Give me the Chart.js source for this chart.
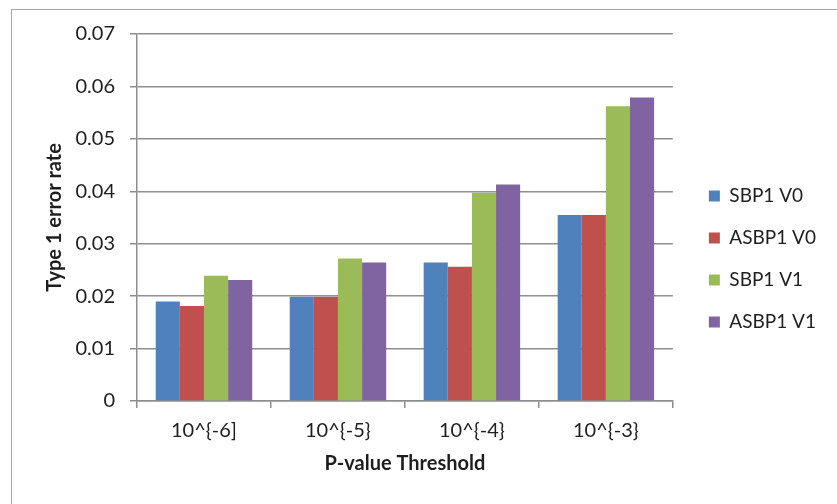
<!DOCTYPE html>
<html lang="en">
<head>
    <meta charset="UTF-8">
    <title>Type 1 error rate by P-value threshold</title>
    <script src="https://cdn.jsdelivr.net/npm/chart.js"></script>
    <style>
        html, body { margin: 0; padding: 0; background: #fff; overflow: hidden; }
        .frame {
            position: absolute; left: 11px; top: 9px;
            width: 900px; height: 600px;
            border: 1.5px solid #a6a6a6;
        }
        .wrap { position: absolute; left: 0; top: 0; width: 837px; height: 504px; }
    </style>
</head>
<body>
    <div class="frame"></div>
    <div class="wrap"><canvas id="chart"></canvas></div>

    <script>
        // Chart data
        const categories = ['10^{-6]', '10^{-5}', '10^{-4}', '10^{-3}'];
        const seriesNames = ['SBP1 V0', 'ASBP1 V0', 'SBP1 V1', 'ASBP1 V1'];
        const sbp1V0  = [0.0190, 0.0199, 0.0264, 0.0355];
        const asbp1V0 = [0.0181, 0.0199, 0.0256, 0.0355];
        const sbp1V1  = [0.0239, 0.0272, 0.0397, 0.0562];
        const asbp1V1 = [0.0231, 0.0264, 0.0413, 0.0579];
        const yTicks = [0, 0.01, 0.02, 0.03, 0.04, 0.05, 0.06, 0.07];

        const colors = ['#4f81bd', '#c0504d', '#9bbb59', '#8064a2'];
        const gridColor = '#8e8e8e';
        const textColor = '#1e1e1e';

        // shift the legend a bit right and up, like the original
        const legendShift = {
            id: 'legendShift',
            afterLayout(chart) {
                const lg = chart.legend;
                lg.left = chart.chartArea.right + 13;
                lg.right = lg.left + lg.width;
                lg.top -= 10;
                lg.bottom -= 10;
            }
        };

        new Chart(document.getElementById('chart').getContext('2d'), {
            type: 'bar',
            data: {
                labels: categories,
                datasets: [sbp1V0, asbp1V0, sbp1V1, asbp1V1].map((d, i) => ({
                    label: seriesNames[i],
                    data: d,
                    backgroundColor: colors[i],
                    borderWidth: 0,
                    categoryPercentage: 0.72,
                    barPercentage: 1.0
                }))
            },
            options: {
                responsive: true,
                maintainAspectRatio: false,
                animation: false,
                layout: { padding: { top: 34, left: 0, right: 24, bottom: 0 } },
                font: { family: 'Lato, "Liberation Sans", sans-serif', size: 20 },
                plugins: {
                    legend: {
                        position: 'right',
                        labels: {
                            boxWidth: 11,
                            boxHeight: 11,
                            padding: 23,
                            color: textColor,
                            font: { family: 'Lato, "Liberation Sans", sans-serif', size: 19 }
                        }
                    },
                    tooltip: { enabled: false }
                },
                scales: {
                    x: {
                        grid: {
                            drawOnChartArea: false,
                            drawTicks: true,
                            tickLength: 7,
                            color: gridColor,
                            lineWidth: 1.5
                        },
                        border: { color: gridColor, width: 1.5 },
                        ticks: { color: textColor, padding: 11, font: { size: 20 } },
                        title: {
                            display: true,
                            text: 'P-value Threshold',
                            color: textColor,
                            padding: { top: 0, bottom: 28 },
                            font: { size: 20, weight: 'bold' }
                        },
                        afterFit(scale) { scale.height = 103; }
                    },
                    y: {
                        min: 0,
                        max: 0.07,
                        afterBuildTicks(scale) {
                            scale.ticks = yTicks.map(v => ({ value: v }));
                        },
                        grid: {
                            tickLength: 7,
                            color: gridColor,
                            lineWidth: 1.5
                        },
                        border: { color: gridColor, width: 1.5 },
                        ticks: {
                            color: textColor,
                            padding: 15,
                            font: { size: 20 },
                            callback: v => v === 0 ? '0' : v.toFixed(2)
                        },
                        title: {
                            display: true,
                            text: 'Type 1 error rate',
                            color: textColor,
                            padding: { top: 43, bottom: 0 },
                            font: { size: 20, weight: 'bold' }
                        },
                        afterFit(scale) { scale.width = 137; }
                    }
                }
            },
            plugins: [legendShift]
        });
    </script>
</body>
</html>
